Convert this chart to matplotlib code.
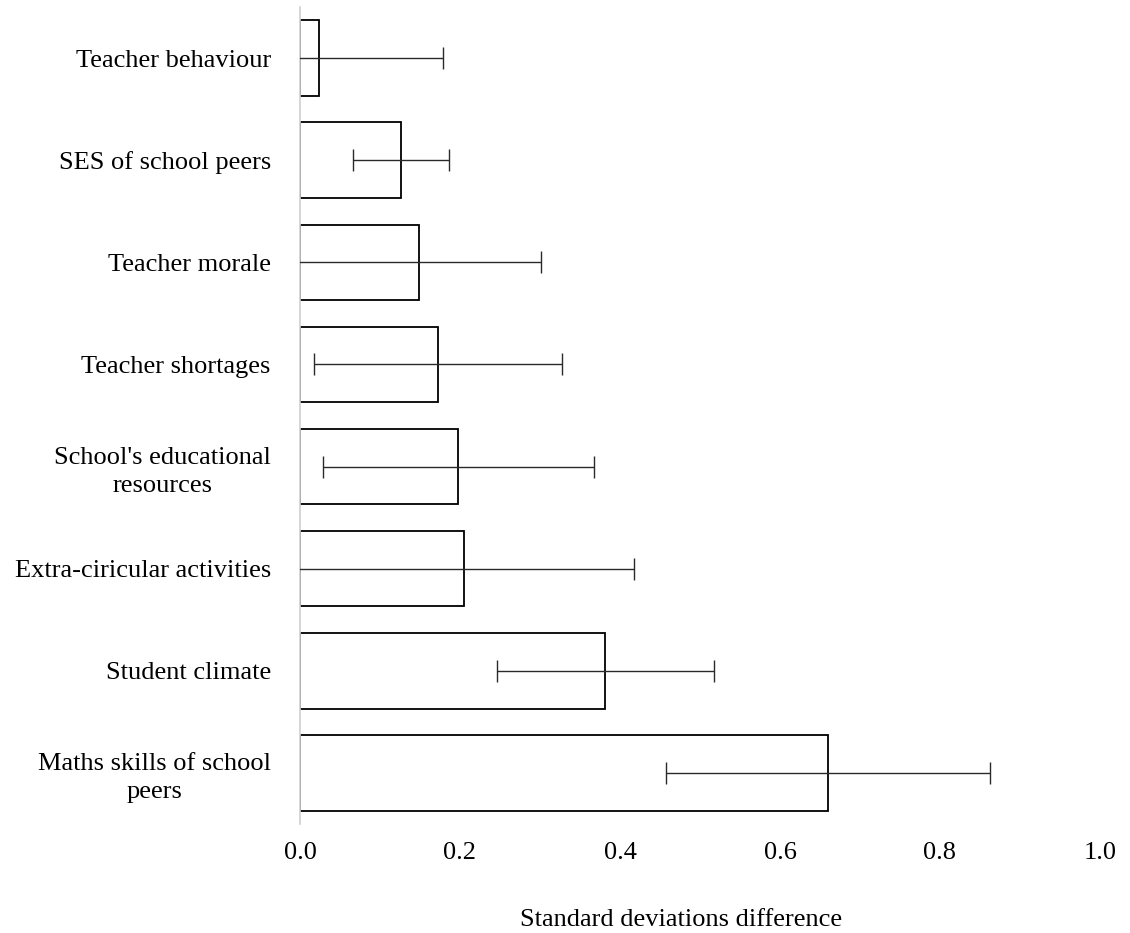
import matplotlib
matplotlib.use("Agg")
from matplotlib import pyplot as plt

# categories, top to bottom
labels = ["Teacher behaviour",
          "SES of school peers",
          "Teacher morale",
          "Teacher shortages",
          "School's educational\nresources",
          "Extra-ciricular activities",
          "Student climate",
          "Maths skills of school\npeers"]
values = [0.024, 0.126, 0.149, 0.1725, 0.198, 0.2046, 0.3817, 0.660]
errors = [0.155, 0.060, 0.152, 0.155, 0.169, 0.213, 0.136, 0.202]
xticks = [0.0, 0.2, 0.4, 0.6, 0.8, 1.0]

plt.rcParams['font.family'] = ['Liberation Serif', 'DejaVu Serif']

fig = plt.figure(figsize=(11.3, 9.33), dpi=100)
ax = fig.add_axes([300/1130, 109/933, 800/1130, 817/933])

pos = list(range(len(labels)))
ax.barh(pos, values, height=0.74, color="white", edgecolor="black",
        linewidth=1.3, zorder=2)
ax.errorbar(values, pos, xerr=errors, fmt="none", ecolor="#2a2a2a",
            elinewidth=1.0, capsize=8, capthick=1.0, zorder=3)

ax.set_xlim(0, 1.0)
ax.set_ylim(-0.5, len(labels) - 0.5)
ax.invert_yaxis()

ax.set_xticks(xticks)
ax.set_xticklabels(["%.1f" % t for t in xticks], fontsize=19)
ax.set_yticks(pos)
ax.set_yticklabels(labels, fontsize=19, multialignment="center",
                   linespacing=1.35)
ax.tick_params(axis="x", length=0, pad=13)
ax.tick_params(axis="y", length=0, pad=21)

for s in ["top", "right", "bottom"]:
    ax.spines[s].set_visible(False)
ax.spines["left"].set_color("#d0d0d0")
ax.spines["left"].set_linewidth(1.2)

fig.text(681/1130, 1 - 920/933, "Standard deviations difference",
         fontsize=19, ha="center", va="center")

fig.savefig("out.png", dpi=100)
